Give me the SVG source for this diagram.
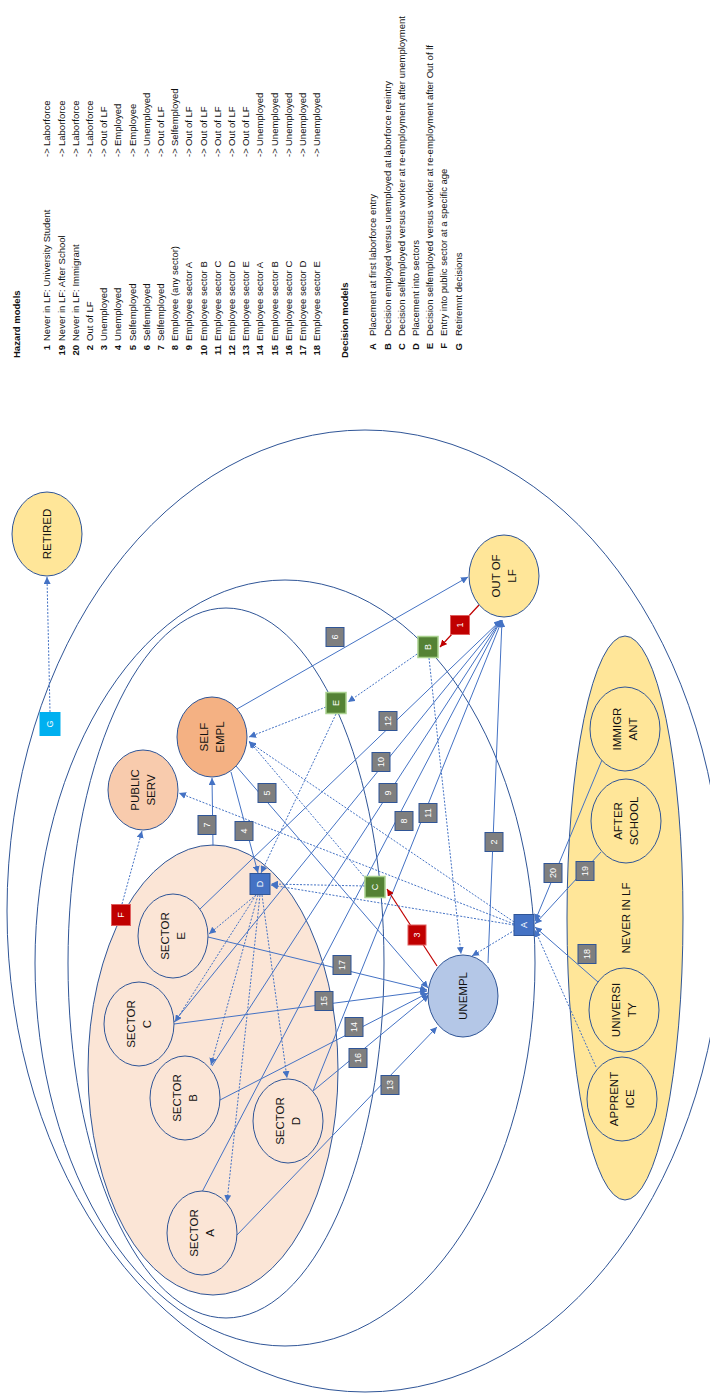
<svg xmlns="http://www.w3.org/2000/svg" width="710" height="1396" viewBox="0 0 710 1396">
<defs>
<style>
.eo{fill:none;stroke:#2F5597;stroke-width:1}
.nd{stroke:#2F5597;stroke-width:1}
.nt{font-family:"Liberation Sans",Arial,sans-serif;font-size:11.5px;fill:#111;text-anchor:middle}
.c{fill:none;stroke:#4472C4;stroke-width:1;marker-end:url(#ab)}
.d{fill:none;stroke:#4472C4;stroke-width:1;stroke-dasharray:2 1.5;marker-end:url(#ab)}
.r{fill:none;stroke:#C00000;stroke-width:1.2;marker-end:url(#ar)}
.hb{fill:#7F7F7F;stroke:#2F5597;stroke-width:1}
.rb{fill:#C00000;stroke:#E06060;stroke-width:1}
.gb{fill:#548235;stroke:#A9D18E;stroke-width:1.5}
.bb{fill:#4472C4;stroke:#2F5597;stroke-width:1}
.cb{fill:#00B0F0}
.bt{font-family:"Liberation Sans",Arial,sans-serif;font-size:9px;fill:#fff;text-anchor:middle}
.lg{font-family:"Liberation Sans",Arial,sans-serif;font-size:9.5px;fill:#111}
.lb{font-weight:bold}
.le{text-anchor:end}
</style>
<marker id="ab" viewBox="0 0 10 10" refX="10" refY="5" markerWidth="7" markerHeight="7" markerUnits="userSpaceOnUse" orient="auto"><path d="M0,0 L10,5 L0,10 z" fill="#4472C4"/></marker>
<marker id="ar" viewBox="0 0 10 10" refX="10" refY="5" markerWidth="7" markerHeight="7" markerUnits="userSpaceOnUse" orient="auto"><path d="M0,0 L10,5 L0,10 z" fill="#C00000"/></marker>
</defs>

<g id="legend">
<text class="lg lb" transform="translate(20.4,360) rotate(-90)" x="2">Hazard models</text>
<g transform="translate(50.4,360) rotate(-90)"><text class="lg lb le" x="15">1</text><text class="lg" x="19">Never in LF: University Student</text><text class="lg" x="203">-&gt;</text><text class="lg" x="214">Laborforce</text></g>
<g transform="translate(64.6,360) rotate(-90)"><text class="lg lb le" x="15">19</text><text class="lg" x="19">Never in LF: After School</text><text class="lg" x="203">-&gt;</text><text class="lg" x="214">Laborforce</text></g>
<g transform="translate(78.8,360) rotate(-90)"><text class="lg lb le" x="15">20</text><text class="lg" x="19">Never in LF: Immigrant</text><text class="lg" x="203">-&gt;</text><text class="lg" x="214">Laborforce</text></g>
<g transform="translate(93,360) rotate(-90)"><text class="lg lb le" x="15">2</text><text class="lg" x="19">Out of LF</text><text class="lg" x="203">-&gt;</text><text class="lg" x="214">Laborforce</text></g>
<g transform="translate(107.2,360) rotate(-90)"><text class="lg lb le" x="15">3</text><text class="lg" x="19">Unemployed</text><text class="lg" x="203">-&gt;</text><text class="lg" x="214">Out of LF</text></g>
<g transform="translate(121.4,360) rotate(-90)"><text class="lg lb le" x="15">4</text><text class="lg" x="19">Unemployed</text><text class="lg" x="203">-&gt;</text><text class="lg" x="214">Employed</text></g>
<g transform="translate(135.6,360) rotate(-90)"><text class="lg lb le" x="15">5</text><text class="lg" x="19">Selfemployed</text><text class="lg" x="203">-&gt;</text><text class="lg" x="214">Employee</text></g>
<g transform="translate(149.8,360) rotate(-90)"><text class="lg lb le" x="15">6</text><text class="lg" x="19">Selfemployed</text><text class="lg" x="203">-&gt;</text><text class="lg" x="214">Unemployed</text></g>
<g transform="translate(164,360) rotate(-90)"><text class="lg lb le" x="15">7</text><text class="lg" x="19">Selfemployed</text><text class="lg" x="203">-&gt;</text><text class="lg" x="214">Out of LF</text></g>
<g transform="translate(178.2,360) rotate(-90)"><text class="lg lb le" x="15">8</text><text class="lg" x="19">Employee (any sector)</text><text class="lg" x="203">-&gt;</text><text class="lg" x="214">Selfemployed</text></g>
<g transform="translate(192.4,360) rotate(-90)"><text class="lg lb le" x="15">9</text><text class="lg" x="19">Employee sector A</text><text class="lg" x="203">-&gt;</text><text class="lg" x="214">Out of LF</text></g>
<g transform="translate(206.6,360) rotate(-90)"><text class="lg lb le" x="15">10</text><text class="lg" x="19">Employee sector B</text><text class="lg" x="203">-&gt;</text><text class="lg" x="214">Out of LF</text></g>
<g transform="translate(220.8,360) rotate(-90)"><text class="lg lb le" x="15">11</text><text class="lg" x="19">Employee sector C</text><text class="lg" x="203">-&gt;</text><text class="lg" x="214">Out of LF</text></g>
<g transform="translate(235,360) rotate(-90)"><text class="lg lb le" x="15">12</text><text class="lg" x="19">Employee sector D</text><text class="lg" x="203">-&gt;</text><text class="lg" x="214">Out of LF</text></g>
<g transform="translate(249.2,360) rotate(-90)"><text class="lg lb le" x="15">13</text><text class="lg" x="19">Employee sector E</text><text class="lg" x="203">-&gt;</text><text class="lg" x="214">Out of LF</text></g>
<g transform="translate(263.4,360) rotate(-90)"><text class="lg lb le" x="15">14</text><text class="lg" x="19">Employee sector A</text><text class="lg" x="203">-&gt;</text><text class="lg" x="214">Unemployed</text></g>
<g transform="translate(277.6,360) rotate(-90)"><text class="lg lb le" x="15">15</text><text class="lg" x="19">Employee sector B</text><text class="lg" x="203">-&gt;</text><text class="lg" x="214">Unemployed</text></g>
<g transform="translate(291.8,360) rotate(-90)"><text class="lg lb le" x="15">16</text><text class="lg" x="19">Employee sector C</text><text class="lg" x="203">-&gt;</text><text class="lg" x="214">Unemployed</text></g>
<g transform="translate(306,360) rotate(-90)"><text class="lg lb le" x="15">17</text><text class="lg" x="19">Employee sector D</text><text class="lg" x="203">-&gt;</text><text class="lg" x="214">Unemployed</text></g>
<g transform="translate(320.2,360) rotate(-90)"><text class="lg lb le" x="15">18</text><text class="lg" x="19">Employee sector E</text><text class="lg" x="203">-&gt;</text><text class="lg" x="214">Unemployed</text></g>
<text class="lg lb" transform="translate(348.4,360) rotate(-90)" x="2">Decision models</text>
<g transform="translate(376.4,360) rotate(-90)"><text class="lg lb le" x="17">A</text><text class="lg" x="24">Placement at first laborforce entry</text></g>
<g transform="translate(390.6,360) rotate(-90)"><text class="lg lb le" x="17">B</text><text class="lg" x="24">Decision employed versus unemployed at laborforce reeintry</text></g>
<g transform="translate(404.8,360) rotate(-90)"><text class="lg lb le" x="17">C</text><text class="lg" x="24">Decision selfemployed versus worker at re-employment after unemployment</text></g>
<g transform="translate(419,360) rotate(-90)"><text class="lg lb le" x="17">D</text><text class="lg" x="24">Placement into sectors</text></g>
<g transform="translate(433.2,360) rotate(-90)"><text class="lg lb le" x="17">E</text><text class="lg" x="24">Decision selfemployed versus worker at re-employment after Out of lf</text></g>
<g transform="translate(447.4,360) rotate(-90)"><text class="lg lb le" x="17">F</text><text class="lg" x="24">Entry into public sector at a specific age</text></g>
<g transform="translate(461.6,360) rotate(-90)"><text class="lg lb le" x="17">G</text><text class="lg" x="24">Retiremnt decisions</text></g>
</g>

<g id="regions">
<ellipse class="eo" cx="365" cy="911" rx="358" ry="481"/>
<ellipse class="eo" cx="285" cy="963" rx="250" ry="383"/>
<ellipse class="eo" cx="226" cy="963" rx="158" ry="355"/>
<ellipse class="nd" cx="213" cy="1070" rx="125" ry="225" fill="#FBE5D6"/>
<ellipse class="nd" cx="625" cy="918" rx="58" ry="282" fill="#FFE699"/>
<text class="nt" transform="translate(626,918) rotate(-90)" y="4">NEVER IN LF</text>
</g>

<g id="connectors">
<path class="c" d="M488,963 L502,620"/>
<path class="c" d="M202,1192 L501,620"/>
<path class="c" d="M212,1066 L501,620"/>
<path class="c" d="M174,1022 L501,620"/>
<path class="c" d="M313,1091 L502,620"/>
<path class="c" d="M200,909 L501,620"/>
<path class="c" d="M237,709 L468,577"/>
<path class="c" d="M208,937 L427,990"/>
<path class="c" d="M174,1024 L427,991"/>
<path class="c" d="M220,1100 L428,993"/>
<path class="c" d="M313,1091 L429,995"/>
<path class="c" d="M236,766 L428,988"/>
<path class="c" d="M237,1235 L437,1027"/>
<path class="c" d="M602,760 L535,921"/>
<path class="c" d="M601,852 L535,924"/>
<path class="c" d="M598,982 L535,927"/>
<path class="c" d="M213,846 L212,778"/>
<path class="c" d="M231,772 L258,873"/>
<path class="r" d="M479,605 L440,647"/>
<path class="r" d="M437,966 L387,889"/>
<path class="d" d="M50,712 L47,577"/>
<path class="d" d="M122,904 L142,831"/>
<path class="d" d="M420,652 L348,702"/>
<path class="d" d="M429,658 L461,954"/>
<path class="d" d="M326,707 L249,737"/>
<path class="d" d="M336,714 L261,873"/>
<path class="d" d="M365,886 L271,884"/>
<path class="d" d="M366,879 L249,741"/>
<path class="d" d="M514,925 L271,885"/>
<path class="d" d="M514,922 L249,742"/>
<path class="d" d="M514,924 L179,793"/>
<path class="d" d="M515,930 L472,956"/>
<path class="d" d="M596,1067 L535,930"/>
<path class="d" d="M256,895 L209,934"/>
<path class="d" d="M256,895 L175,1022"/>
<path class="d" d="M258,895 L211,1065"/>
<path class="d" d="M262,895 L287,1078"/>
<path class="d" d="M260,895 L227,1202"/>
</g>

<g id="n-retired" transform="translate(47,534)"><ellipse class="nd" rx="35" ry="42" fill="#FFE699"/><text class="nt" transform="rotate(-90)" y="4">RETIRED</text></g>
<g id="n-selfempl" transform="translate(212,737)"><ellipse class="nd" rx="35" ry="40" fill="#F4B183"/><text class="nt" transform="rotate(-90)"><tspan x="0" y="-4">SELF</tspan><tspan x="0" y="12">EMPL</tspan></text></g>
<g id="n-publicserv" transform="translate(143,790)"><ellipse class="nd" rx="35" ry="40" fill="#F8CBAD"/><text class="nt" transform="rotate(-90)"><tspan x="0" y="-4">PUBLIC</tspan><tspan x="0" y="12">SERV</tspan></text></g>
<g id="n-outoflf" transform="translate(504,576)"><ellipse class="nd" rx="35" ry="41" fill="#FFE699"/><text class="nt" transform="rotate(-90)"><tspan x="0" y="-4">OUT OF</tspan><tspan x="0" y="12">LF</tspan></text></g>
<g id="n-unempl" transform="translate(463,996)"><ellipse class="nd" rx="35" ry="41" fill="#B4C7E7"/><text class="nt" transform="rotate(-90)" y="4">UNEMPL</text></g>
<g id="n-immigrant" transform="translate(625,729)"><ellipse class="nd" rx="35" ry="42" fill="#FFE699"/><text class="nt" transform="rotate(-90)"><tspan x="0" y="-4">IMMIGR</tspan><tspan x="0" y="12">ANT</tspan></text></g>
<g id="n-afterschool" transform="translate(626,821)"><ellipse class="nd" rx="35" ry="42" fill="#FFE699"/><text class="nt" transform="rotate(-90)"><tspan x="0" y="-4">AFTER</tspan><tspan x="0" y="12">SCHOOL</tspan></text></g>
<g id="n-university" transform="translate(624,1010)"><ellipse class="nd" rx="35" ry="42" fill="#FFE699"/><text class="nt" transform="rotate(-90)"><tspan x="0" y="-4">UNIVERSI</tspan><tspan x="0" y="12">TY</tspan></text></g>
<g id="n-apprentice" transform="translate(622,1099)"><ellipse class="nd" rx="35" ry="42" fill="#FFE699"/><text class="nt" transform="rotate(-90)"><tspan x="0" y="-4">APPRENT</tspan><tspan x="0" y="12">ICE</tspan></text></g>
<g id="n-sectore" transform="translate(173,936)"><ellipse class="nd" rx="35" ry="42" fill="#FBE5D6"/><text class="nt" transform="rotate(-90)"><tspan x="0" y="-4">SECTOR</tspan><tspan x="0" y="12">E</tspan></text></g>
<g id="n-sectorc" transform="translate(139,1024)"><ellipse class="nd" rx="35" ry="42" fill="#FBE5D6"/><text class="nt" transform="rotate(-90)"><tspan x="0" y="-4">SECTOR</tspan><tspan x="0" y="12">C</tspan></text></g>
<g id="n-sectorb" transform="translate(185,1098)"><ellipse class="nd" rx="35" ry="42" fill="#FBE5D6"/><text class="nt" transform="rotate(-90)"><tspan x="0" y="-4">SECTOR</tspan><tspan x="0" y="12">B</tspan></text></g>
<g id="n-sectord" transform="translate(288,1121)"><ellipse class="nd" rx="35" ry="42" fill="#FBE5D6"/><text class="nt" transform="rotate(-90)"><tspan x="0" y="-4">SECTOR</tspan><tspan x="0" y="12">D</tspan></text></g>
<g id="n-sectora" transform="translate(202,1233)"><ellipse class="nd" rx="35" ry="42" fill="#FBE5D6"/><text class="nt" transform="rotate(-90)"><tspan x="0" y="-4">SECTOR</tspan><tspan x="0" y="12">A</tspan></text></g>

<g id="dA" transform="translate(524,925)"><rect class="bb" x="-10" y="-10.5" width="20" height="21"/><text class="bt" transform="rotate(-90)" y="3">A</text></g>
<g id="dB" transform="translate(428,647)"><rect class="gb" x="-10" y="-10.5" width="20" height="21"/><text class="bt" transform="rotate(-90)" y="3">B</text></g>
<g id="dC" transform="translate(375,887)"><rect class="gb" x="-10" y="-10.5" width="20" height="21"/><text class="bt" transform="rotate(-90)" y="3">C</text></g>
<g id="dD" transform="translate(260,884)"><rect class="bb" x="-10" y="-10.5" width="20" height="21"/><text class="bt" transform="rotate(-90)" y="3">D</text></g>
<g id="dE" transform="translate(336,703)"><rect class="gb" x="-10" y="-10.5" width="20" height="21"/><text class="bt" transform="rotate(-90)" y="3">E</text></g>
<g id="dF" transform="translate(121,915)"><rect class="rb" x="-9.5" y="-10.5" width="19" height="21"/><text class="bt" transform="rotate(-90)" y="3">F</text></g>
<g id="dG" transform="translate(50,724)"><rect class="cb" x="-10.5" y="-12" width="21" height="24"/><text class="bt" transform="rotate(-90)" y="3">G</text></g>

<g id="h1" transform="translate(460,625)"><rect class="rb" x="-9.5" y="-9.5" width="19" height="19"/><text class="bt" transform="rotate(-90)" y="3">1</text></g>
<g id="h2" transform="translate(494,842)"><rect class="hb" x="-9" y="-9.5" width="18" height="19"/><text class="bt" transform="rotate(-90)" y="3">2</text></g>
<g id="h3" transform="translate(417,935)"><rect class="rb" x="-9" y="-10" width="18" height="20"/><text class="bt" transform="rotate(-90)" y="3">3</text></g>
<g id="h4" transform="translate(244,831)"><rect class="hb" x="-9" y="-9.5" width="18" height="19"/><text class="bt" transform="rotate(-90)" y="3">4</text></g>
<g id="h5" transform="translate(267,793)"><rect class="hb" x="-9" y="-9.5" width="18" height="19"/><text class="bt" transform="rotate(-90)" y="3">5</text></g>
<g id="h6" transform="translate(335,637)"><rect class="hb" x="-9" y="-9.5" width="18" height="19"/><text class="bt" transform="rotate(-90)" y="3">6</text></g>
<g id="h7" transform="translate(207,825)"><rect class="hb" x="-9" y="-9.5" width="18" height="19"/><text class="bt" transform="rotate(-90)" y="3">7</text></g>
<g id="h8" transform="translate(404,821)"><rect class="hb" x="-9" y="-9.5" width="18" height="19"/><text class="bt" transform="rotate(-90)" y="3">8</text></g>
<g id="h9" transform="translate(388,793)"><rect class="hb" x="-9" y="-9.5" width="18" height="19"/><text class="bt" transform="rotate(-90)" y="3">9</text></g>
<g id="h10" transform="translate(381,762)"><rect class="hb" x="-9" y="-9.5" width="18" height="19"/><text class="bt" transform="rotate(-90)" y="3">10</text></g>
<g id="h11" transform="translate(428,813)"><rect class="hb" x="-9" y="-9.5" width="18" height="19"/><text class="bt" transform="rotate(-90)" y="3">11</text></g>
<g id="h12" transform="translate(388,721)"><rect class="hb" x="-9" y="-9.5" width="18" height="19"/><text class="bt" transform="rotate(-90)" y="3">12</text></g>
<g id="h13" transform="translate(390,1085)"><rect class="hb" x="-9" y="-9.5" width="18" height="19"/><text class="bt" transform="rotate(-90)" y="3">13</text></g>
<g id="h14" transform="translate(354,1027)"><rect class="hb" x="-9" y="-9.5" width="18" height="19"/><text class="bt" transform="rotate(-90)" y="3">14</text></g>
<g id="h15" transform="translate(324,1001)"><rect class="hb" x="-9" y="-9.5" width="18" height="19"/><text class="bt" transform="rotate(-90)" y="3">15</text></g>
<g id="h16" transform="translate(358,1058)"><rect class="hb" x="-9" y="-9.5" width="18" height="19"/><text class="bt" transform="rotate(-90)" y="3">16</text></g>
<g id="h17" transform="translate(342,965)"><rect class="hb" x="-9" y="-9.5" width="18" height="19"/><text class="bt" transform="rotate(-90)" y="3">17</text></g>
<g id="h18" transform="translate(587,954)"><rect class="hb" x="-9" y="-9.5" width="18" height="19"/><text class="bt" transform="rotate(-90)" y="3">18</text></g>
<g id="h19" transform="translate(585,871)"><rect class="hb" x="-9" y="-9.5" width="18" height="19"/><text class="bt" transform="rotate(-90)" y="3">19</text></g>
<g id="h20" transform="translate(553,873)"><rect class="hb" x="-9" y="-9.5" width="18" height="19"/><text class="bt" transform="rotate(-90)" y="3">20</text></g>
</svg>
